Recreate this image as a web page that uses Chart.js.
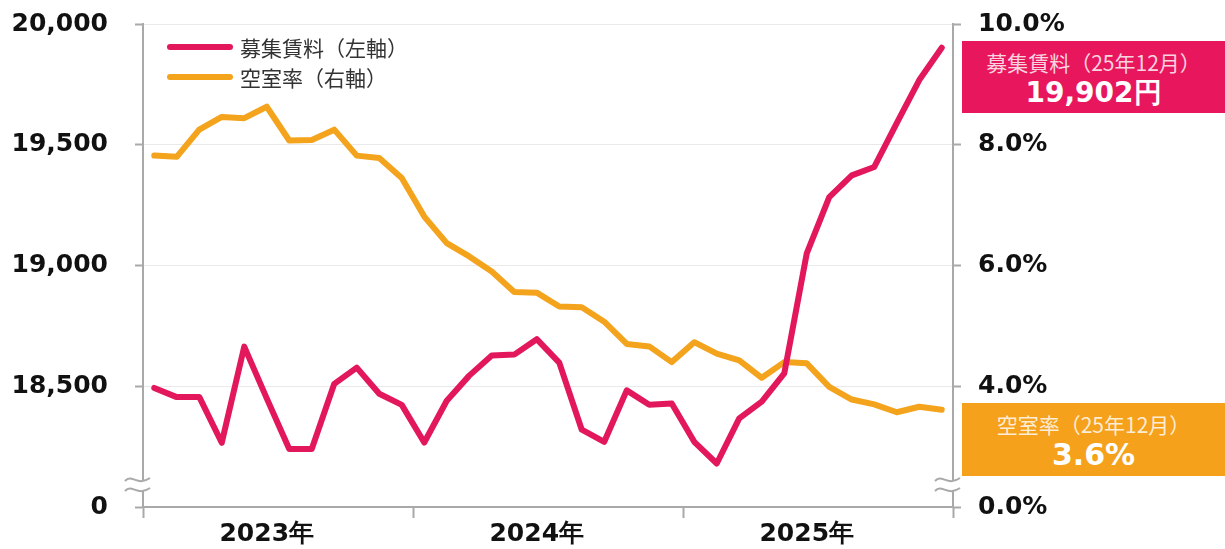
<!DOCTYPE html>
<html>
<head>
<meta charset="utf-8">
<script src="https://cdn.jsdelivr.net/npm/chart.js@4"></script>
<style>
  body { margin: 0; background: #fff; }
  .wrap { position: relative; width: 1225px; height: 549px; }
  canvas { display: block; }
  .legend { position: absolute; left: 167px; font: 21px "Noto Sans CJK JP", sans-serif; color: #333; line-height: 30px; height: 30px; }
  .legend span.sw { position: absolute; left: 0; top: 12px; width: 66px; height: 6px; border-radius: 3px; }
  .legend span.tx { position: absolute; left: 73px; top: 0; white-space: nowrap; }
  .badge { position: absolute; left: 962px; width: 263px; text-align: center; color: #fff; }
  .badge .sub { position: absolute; left: 0; right: 0; font: 21px "Noto Sans CJK JP", sans-serif; line-height: 26px; color: rgba(255,255,255,0.82); white-space: nowrap; }
  .badge .big { position: absolute; left: 0; right: 0; font: bold 28px "DejaVu Sans", sans-serif; line-height: 34px; white-space: nowrap; }
</style>
</head>
<body>
<div class="wrap">
  <canvas id="graph" width="1225" height="549"></canvas>
  <div class="legend" style="top:32px"><span class="sw" style="background:#E2175C"></span><span class="tx">募集賃料（左軸）</span></div>
  <div class="legend" style="top:62px"><span class="sw" style="background:#F4A31D"></span><span class="tx">空室率（右軸）</span></div>
  <div class="badge" style="top:41px;height:72px;background:#E8175D">
    <div class="sub" style="top:8px">募集賃料（25年12月）</div>
    <div class="big" style="top:35px">19,902円</div>
  </div>
  <div class="badge" style="top:403px;height:73px;background:#F5A11B">
    <div class="sub" style="top:8px">空室率（25年12月）</div>
    <div class="big" style="top:35px;font-size:30px">3.6%</div>
  </div>
</div>
<script>
const months = [
  '2023-01','2023-02','2023-03','2023-04','2023-05','2023-06','2023-07','2023-08','2023-09','2023-10','2023-11','2023-12',
  '2024-01','2024-02','2024-03','2024-04','2024-05','2024-06','2024-07','2024-08','2024-09','2024-10','2024-11','2024-12',
  '2025-01','2025-02','2025-03','2025-04','2025-05','2025-06','2025-07','2025-08','2025-09','2025-10','2025-11','2025-12'
];
const yearLabels = ['2023年', '2024年', '2025年'];

// 募集賃料 (円) - left axis
const rent = [
  18493, 18455, 18456, 18266, 18664, 18450, 18240, 18240, 18510, 18577, 18469, 18423,
  18267, 18440, 18544, 18627, 18631, 18695, 18598, 18320, 18270, 18483, 18423, 18429,
  18270, 18180, 18367, 18436, 18553, 19050, 19283, 19373, 19408, 19590, 19768, 19902
];
// 空室率 (%) - right axis
const vacancy = [
  7.82, 7.80, 8.25, 8.46, 8.44, 8.63, 8.07, 8.08, 8.25, 7.82, 7.78, 7.45,
  6.81, 6.37, 6.15, 5.90, 5.56, 5.55, 5.32, 5.31, 5.07, 4.70, 4.66, 4.40,
  4.73, 4.54, 4.43, 4.14, 4.40, 4.38, 3.99, 3.78, 3.70, 3.57, 3.66, 3.61
];

const leftTicks = [18000, 18500, 19000, 19500, 20000];
const rightTicks = [2, 4, 6, 8, 10];

const axisGrey = '#a9a9a9';
const tickFont = { family: 'DejaVu Sans', size: 25, weight: 'bold' };

// wavy axis-break marks on both y axes
const breakMarks = {
  id: 'breakMarks',
  afterDraw(chart) {
    const ctx = chart.ctx;
    const area = chart.chartArea;
    const yc = 485;
    [area.left, area.right].forEach(function (x) {
      const x0 = x - 18, x1 = x + 7;
      function wave(y) {
        ctx.moveTo(x0, y + 1);
        ctx.bezierCurveTo(x0 + 7, y - 7, x0 + 12, y + 7, x1, y - 2);
      }
      ctx.save();
      ctx.beginPath();
      wave(yc - 5);
      ctx.lineTo(x1, yc + 3);
      ctx.bezierCurveTo(x0 + 12, yc + 12, x0 + 7, yc - 2, x0, yc + 6);
      ctx.closePath();
      ctx.fillStyle = '#fff';
      ctx.fill();
      ctx.beginPath();
      wave(yc - 5);
      wave(yc + 5);
      ctx.strokeStyle = axisGrey;
      ctx.lineWidth = 2;
      ctx.stroke();
      ctx.restore();
    });
  }
};

function fixY(width) {
  return function (scale) {
    scale.width = width;
    scale.paddingTop = 0;
    scale.paddingBottom = 0;
  };
}

new Chart(document.getElementById('graph').getContext('2d'), {
  type: 'line',
  data: {
    labels: months,
    datasets: [
      {
        label: '募集賃料（左軸）',
        data: rent,
        yAxisID: 'y',
        borderColor: '#E2175C',
        backgroundColor: '#E2175C',
        borderWidth: 6,
        pointRadius: 0,
        borderJoinStyle: 'round',
        borderCapStyle: 'round'
      },
      {
        label: '空室率（右軸）',
        data: vacancy,
        yAxisID: 'y2',
        borderColor: '#F4A31D',
        backgroundColor: '#F4A31D',
        borderWidth: 6,
        pointRadius: 0,
        borderJoinStyle: 'round',
        borderCapStyle: 'round'
      }
    ]
  },
  options: {
    responsive: false,
    animation: false,
    devicePixelRatio: 1,
    layout: { padding: { top: 24, left: 0, right: 0, bottom: 0 } },
    plugins: { legend: { display: false }, tooltip: { enabled: false } },
    scales: {
      x: {
        offset: true,
        afterFit(scale) { scale.height = 42; },
        border: { color: axisGrey, width: 2 },
        grid: {
          offset: true,
          drawOnChartArea: false,
          tickLength: 11,
          tickWidth: 2,
          color: (c) => (c.index === undefined || c.index % 12 === 0) ? axisGrey : 'rgba(0,0,0,0)',
          tickColor: (c) => (c.index === undefined || c.index % 12 === 0) ? axisGrey : 'rgba(0,0,0,0)'
        },
        ticks: {
          autoSkip: false,
          maxRotation: 0,
          padding: 1,
          color: '#111',
          font: tickFont,
          callback: (v, i) => i % 12 === 5 ? yearLabels[(i - 5) / 12] : ''
        }
      },
      y: {
        position: 'left',
        min: 18000,
        max: 20000,
        afterFit: fixY(143),
        afterBuildTicks(scale) { scale.ticks = leftTicks.map(v => ({ value: v })); },
        border: { color: axisGrey, width: 2 },
        grid: {
          color: (c) => c.tick && c.tick.value === 18000 ? 'rgba(0,0,0,0)' : '#e9e9e9',
          tickColor: axisGrey,
          tickLength: 8,
          tickWidth: 2
        },
        ticks: {
          padding: 27,
          color: '#111',
          font: tickFont,
          callback: (v) => v === 18000 ? '0' : v.toLocaleString('en-US')
        }
      },
      y2: {
        position: 'right',
        min: 2,
        max: 10,
        afterFit: fixY(272),
        afterBuildTicks(scale) { scale.ticks = rightTicks.map(v => ({ value: v })); },
        border: { color: axisGrey, width: 2 },
        grid: {
          drawOnChartArea: false,
          tickColor: axisGrey,
          tickLength: 8,
          tickWidth: 2
        },
        ticks: {
          padding: 17,
          color: '#111',
          font: tickFont,
          callback: (v) => v === 2 ? '0.0%' : v.toFixed(1) + '%'
        }
      }
    }
  },
  plugins: [breakMarks]
});
</script>
</body>
</html>
